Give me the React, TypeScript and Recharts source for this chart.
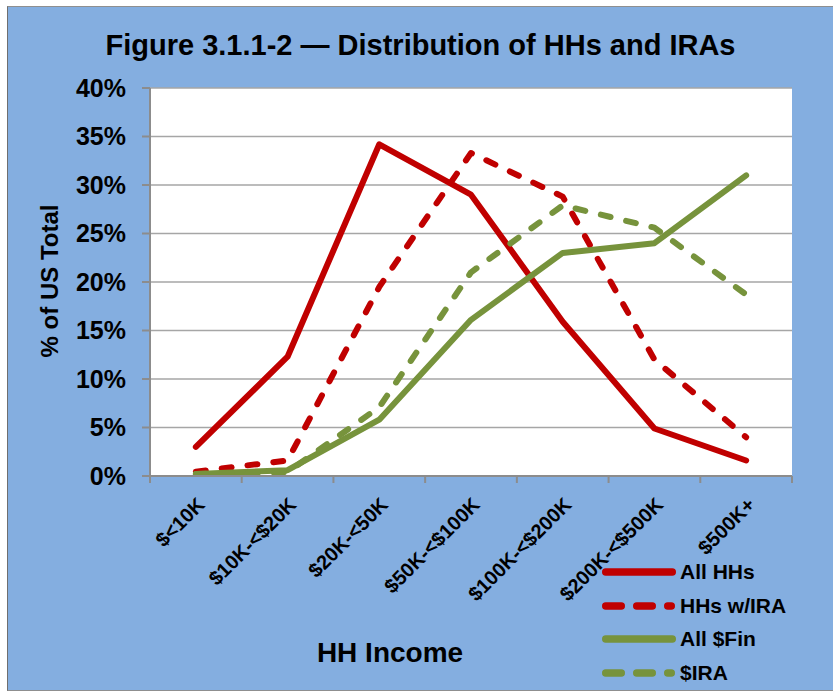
import React from 'react';
import { LineChart, Line, XAxis, YAxis, CartesianGrid } from 'recharts';

const incomeBands = ['$<10K', '$10K-<$20K', '$20K-<50K', '$50K-<$100K', '$100K-<$200K', '$200K-<$500K', '$500K+'];
const allHHs = [3.0, 12.3, 34.2, 29.0, 15.9, 4.9, 1.6];
const hhsWithIra = [0.45, 1.6, 19.5, 33.3, 28.8, 12.0, 4.0];
const allFin = [0.2, 0.6, 5.8, 16.1, 23.0, 24.0, 31.0];
const iraDollars = [0.2, 0.4, 7.1, 21.0, 27.9, 25.6, 18.7];
const yTicks = [0, 5, 10, 15, 20, 25, 30, 35, 40];
const boundaryTicks = [0, 1, 2, 3, 4, 5, 6, 7];

const RED = '#C00000';
const GREEN = '#77933C';
const BLUE = '#84AEE0';
const AXIS = '#8C8C8C';
const FONT = '"Liberation Sans", Arial, sans-serif';

const DASH = '10 16';

const data = incomeBands.map((band, i) => ({
  pos: i + 0.5,
  band,
  allHHs: allHHs[i],
  hhsWithIra: hhsWithIra[i],
  allFin: allFin[i],
  iraDollars: iraDollars[i],
}));

const PLOT_W = 642;
const HALF_BAND = PLOT_W / incomeBands.length / 2;

const BandTick = (props: any) => {
  const { x, y, payload } = props;
  const label = incomeBands[payload.value];
  if (!label) return null;
  const cx = x + HALF_BAND + 10;
  const cy = y + 21;
  return (
    <text
      x={cx}
      y={cy}
      transform={`rotate(-45 ${cx} ${cy})`}
      textAnchor="end"
      fontFamily={FONT}
      fontWeight="bold"
      fontSize={20}
      fill="#000"
    >
      {label}
    </text>
  );
};

const legendItems = [
  { name: 'All HHs', color: RED, dashed: false },
  { name: 'HHs w/IRA', color: RED, dashed: true },
  { name: 'All $Fin', color: GREEN, dashed: false },
  { name: '$IRA', color: GREEN, dashed: true },
];

export default function App() {
  return (
    <div style={{ position: 'absolute', left: 0, top: 0, width: 833, height: 692, background: '#fff', fontFamily: FONT }}>
      <div
        style={{
          position: 'absolute',
          left: 7,
          top: 6,
          width: 826,
          height: 685,
          background: BLUE,
          borderLeft: '1.5px solid #6F6F6F',
          borderTop: '1.5px solid #8F8F8F',
          borderBottom: '1.5px solid #8F8F8F',
          boxSizing: 'border-box',
        }}
      />
      <div
        style={{
          position: 'absolute',
          left: 8,
          top: 29,
          width: 825,
          textAlign: 'center',
          fontWeight: 'bold',
          fontSize: 29,
          color: '#000',
          whiteSpace: 'nowrap',
        }}
      >
        Figure 3.1.1-2 — Distribution of HHs and IRAs
      </div>
      <div
        style={{
          position: 'absolute',
          left: 50,
          top: 281,
          transform: 'translate(-50%, -50%) rotate(-90deg)',
          whiteSpace: 'nowrap',
          fontWeight: 'bold',
          fontSize: 24,
        }}
      >
        % of US Total
      </div>
      <div
        style={{
          position: 'absolute',
          left: 390,
          top: 653,
          transform: 'translate(-50%, -50%)',
          whiteSpace: 'nowrap',
          fontWeight: 'bold',
          fontSize: 28,
        }}
      >
        HH Income
      </div>
      <div style={{ position: 'absolute', left: 0, top: 0 }}>
        <LineChart width={833} height={692} data={data} margin={{ top: 88, right: 41, bottom: 116, left: 90 }}>
          <CartesianGrid vertical={false} fill="#fff" stroke="#A6A6A6" strokeWidth={1.5} />
          <XAxis
            dataKey="pos"
            type="number"
            domain={[0, 7]}
            ticks={boundaryTicks}
            interval={0}
            height={100}
            stroke={AXIS}
            axisLine={{ stroke: AXIS, strokeWidth: 2 }}
            tickLine={{ stroke: AXIS, strokeWidth: 2 }}
            tickSize={7}
            tick={<BandTick />}
          />
          <YAxis
            type="number"
            domain={[0, 40]}
            ticks={yTicks}
            interval={0}
            width={60}
            axisLine={{ stroke: AXIS, strokeWidth: 2 }}
            tickLine={{ stroke: AXIS, strokeWidth: 2 }}
            tickSize={8}
            tickMargin={16}
            tickFormatter={(v: number) => `${v}%`}
            tick={{ fill: '#000', fontSize: 25, fontWeight: 'bold', fontFamily: FONT }}
          />
          <Line dataKey="allHHs" stroke={RED} strokeWidth={6} dot={false} isAnimationActive={false} strokeLinecap="round" strokeLinejoin="round" />
          <Line dataKey="hhsWithIra" stroke={RED} strokeWidth={6} strokeDasharray={DASH} dot={false} isAnimationActive={false} strokeLinecap="round" strokeLinejoin="round" />
          <Line dataKey="allFin" stroke={GREEN} strokeWidth={6} dot={false} isAnimationActive={false} strokeLinecap="round" strokeLinejoin="round" />
          <Line dataKey="iraDollars" stroke={GREEN} strokeWidth={6} strokeDasharray={DASH} dot={false} isAnimationActive={false} strokeLinecap="round" strokeLinejoin="round" />
        </LineChart>
      </div>
      <div style={{ position: 'absolute', left: 602, top: 555 }}>
        {legendItems.map((item) => (
          <div key={item.name} style={{ display: 'flex', alignItems: 'center', height: 33.7 }}>
            <svg width={74} height={10} style={{ display: 'block' }}>
              <line
                x1={3.75}
                y1={5}
                x2={70.25}
                y2={5}
                stroke={item.color}
                strokeWidth={7.5}
                strokeLinecap="round"
                strokeDasharray={item.dashed ? '15.5 15.5 15.5 15.5 3.5 100' : undefined}
              />
            </svg>
            <span style={{ marginLeft: 4, fontWeight: 'bold', fontSize: 21, color: '#000', whiteSpace: 'nowrap' }}>{item.name}</span>
          </div>
        ))}
      </div>
    </div>
  );
}
